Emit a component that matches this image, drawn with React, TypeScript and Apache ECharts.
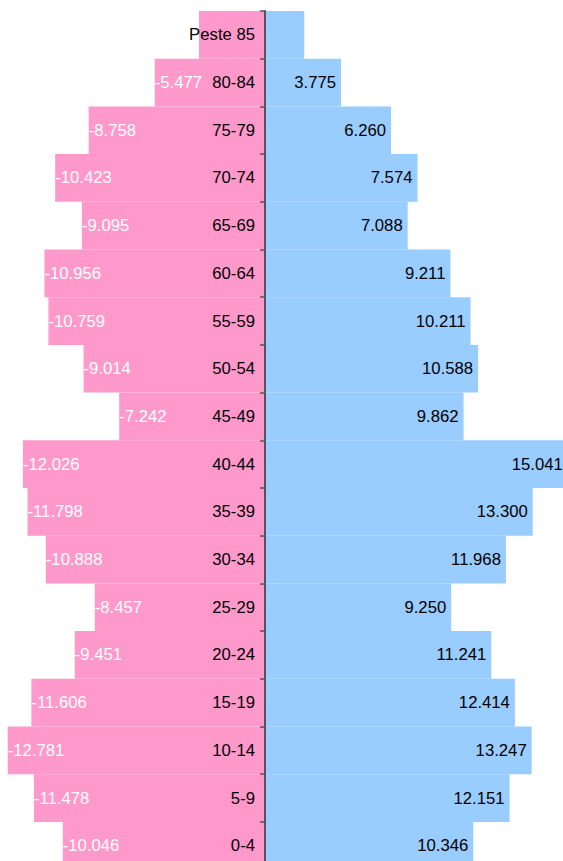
import React, { useEffect, useRef } from "react";
import * as echarts from "echarts";

const categories = [
  "0-4", "5-9", "10-14", "15-19", "20-24", "25-29", "30-34", "35-39", "40-44",
  "45-49", "50-54", "55-59", "60-64", "65-69", "70-74", "75-79", "80-84", "Peste 85",
];
const femaleValues = [
  -10046, -11478, -12781, -11606, -9451, -8457, -10888, -11798, -12026,
  -7242, -9014, -10759, -10956, -9095, -10423, -8758, -5477, -3280,
];
const maleValues = [
  10346, 12151, 13247, 12414, 11241, 9250, 11968, 13300, 15041,
  9862, 10588, 10211, 9211, 7088, 7574, 6260, 3775, 1950,
];
const hiddenLabelCategories = ["Peste 85"];

const fmt = (v: number) => {
  const s = Math.abs(Math.round(v)).toString().replace(/\B(?=(\d{3})+(?!\d))/g, ".");
  return (v < 0 ? "-" : "") + s;
};

const FONT = "'Liberation Sans', Arial, sans-serif";
const X_MIN = -13164;
const X_MAX = 15648;
const CHART_W = 580;
const PINK = "#ff99cc";
const BLUE = "#99ccff";

export default function App() {
  const ref = useRef<HTMLDivElement>(null);
  useEffect(() => {
    if (!ref.current) return;
    const chart = echarts.init(ref.current, undefined, { renderer: "svg" });
    const mk = (vals: number[]) =>
      vals.map((v, i) =>
        hiddenLabelCategories.includes(categories[i])
          ? { value: v, label: { show: false } }
          : { value: v }
      );
    const zeroX = (-X_MIN / (X_MAX - X_MIN)) * CHART_W;
    chart.setOption({
      animation: false,
      grid: { left: 0, right: 0, top: 11, height: 858.6, containLabel: false, outerBoundsMode: "none" },
      xAxis: { type: "value", show: false, min: X_MIN, max: X_MAX },
      yAxis: {
        type: "category",
        data: categories,
        z: 10,
        offset: -zeroX,
        axisLine: { onZero: false, lineStyle: { color: "#555", width: 2 } },
        axisTick: { show: true, length: 5, alignWithLabel: false, lineStyle: { color: "#555", width: 1.5 } },
        axisLabel: { color: "#000", fontSize: 16.7, fontFamily: FONT, margin: 10 },
        splitLine: { show: false },
      },
      series: [
        {
          type: "bar",
          name: "Femei",
          stack: "t",
          barCategoryGap: "0%",
          data: mk(femaleValues),
          itemStyle: { color: PINK, borderColor: PINK, borderWidth: 1.4 },
          label: {
            show: true,
            position: "insideLeft",
            distance: 0,
            color: "#fff",
            fontSize: 16.7,
            fontFamily: FONT,
            formatter: (p: any) => fmt(p.value),
          },
        },
        {
          type: "bar",
          name: "Bărbați",
          stack: "t",
          barCategoryGap: "0%",
          data: mk(maleValues),
          itemStyle: { color: BLUE, borderColor: BLUE, borderWidth: 1.4 },
          label: {
            show: true,
            position: "insideRight",
            distance: 5,
            color: "#000",
            fontSize: 16.7,
            fontFamily: FONT,
            formatter: (p: any) => fmt(p.value),
          },
        },
      ],
    });
    return () => chart.dispose();
  }, []);
  return (
    <div style={{ position: "absolute", left: 0, top: 0, width: 563, height: 861, overflow: "hidden" }}>
      <div ref={ref} style={{ width: CHART_W, height: 880 }} />
    </div>
  );
}
